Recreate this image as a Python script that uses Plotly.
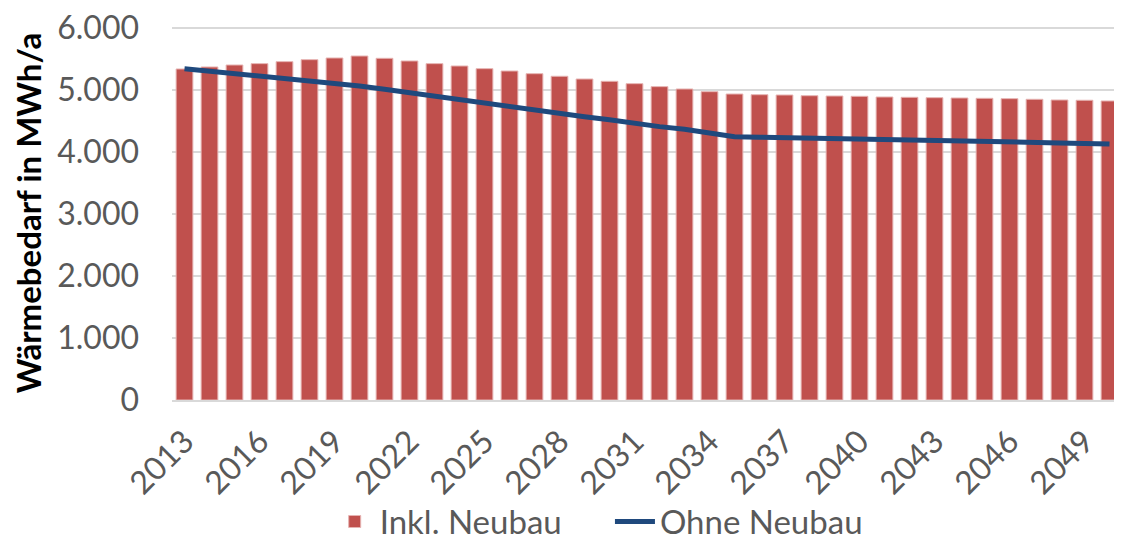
import plotly.graph_objects as go

years = [str(y) for y in range(2013, 2051)]
inkl_neubau = [5339, 5371, 5403, 5425, 5457, 5489, 5516, 5548, 5511, 5468,
               5425, 5387, 5344, 5306, 5263, 5221, 5177, 5140, 5102, 5054,
               5016, 4973, 4935, 4924, 4919, 4908, 4903, 4898, 4887, 4882,
               4876, 4871, 4866, 4860, 4850, 4839, 4834, 4823]
ohne_neubau = [5344, 5306, 5269, 5231, 5188, 5145, 5107, 5065, 5011, 4955,
               4892, 4839, 4785, 4731, 4677, 4624, 4570, 4521, 4460, 4409,
               4366, 4312, 4247, 4237, 4231, 4226, 4215, 4205, 4194, 4188,
               4182, 4176, 4170, 4163, 4155, 4147, 4138, 4129]
tick_years = [str(y) for y in range(2013, 2051, 3)]
y_ticks = [0, 1000, 2000, 3000, 4000, 5000, 6000]
y_labels = ["0", "1.000", "2.000", "3.000", "4.000", "5.000", "6.000"]

FONT = "Lato"
fig = go.Figure()
fig.add_trace(go.Bar(x=years, y=inkl_neubau, name="Inkl. Neubau", legend="legend",
                     marker=dict(color="#C0504D", line=dict(color="#E6B3B2", width=1))))
fig.add_trace(go.Scatter(x=years, y=ohne_neubau, name="Ohne Neubau", mode="lines",
                         legend="legend2", line=dict(color="#1F497D", width=5)))

leg_common = dict(orientation="h", y=-0.325, yanchor="middle", xanchor="left",
                  font=dict(size=33, color="#595959"), itemwidth=40,
                  bgcolor="rgba(0,0,0,0)")

# page has an 8px body margin, so the figure is offset by 8px
fig.update_layout(
    width=1114, height=539,
    margin=dict(l=164, r=0, t=18, b=147, autoexpand=False),
    plot_bgcolor="white", paper_bgcolor="white",
    bargap=0.33,
    font=dict(family=FONT, size=32, color="#595959"),
    showlegend=True,
    legend=dict(x=0.166, **leg_common),
    legend2=dict(x=0.461, **leg_common),
    xaxis=dict(type="category", tickmode="array", tickvals=tick_years, ticktext=tick_years,
               tickangle=-45, showgrid=False, showline=True, linecolor="#D9D9D9", linewidth=2,
               ticks="", automargin=False, ticklabelstandoff=8,
               tickfont=dict(size=32, color="#595959")),
    yaxis=dict(range=[0, 6032], tickmode="array", tickvals=y_ticks, ticktext=y_labels,
               showgrid=True, gridcolor="#D9D9D9", gridwidth=2, zeroline=False,
               showline=False, ticks="", ticklen=0, automargin=False, ticklabelstandoff=32,
               ticklabeloverflow="allow",
               tickfont=dict(size=32, color="#595959"),
               title=dict(text="<b>Wärmebedarf in MWh/a</b>", standoff=14,
                          font=dict(size=33, color="black", family=FONT))),
)
fig.write_html("out.html")
